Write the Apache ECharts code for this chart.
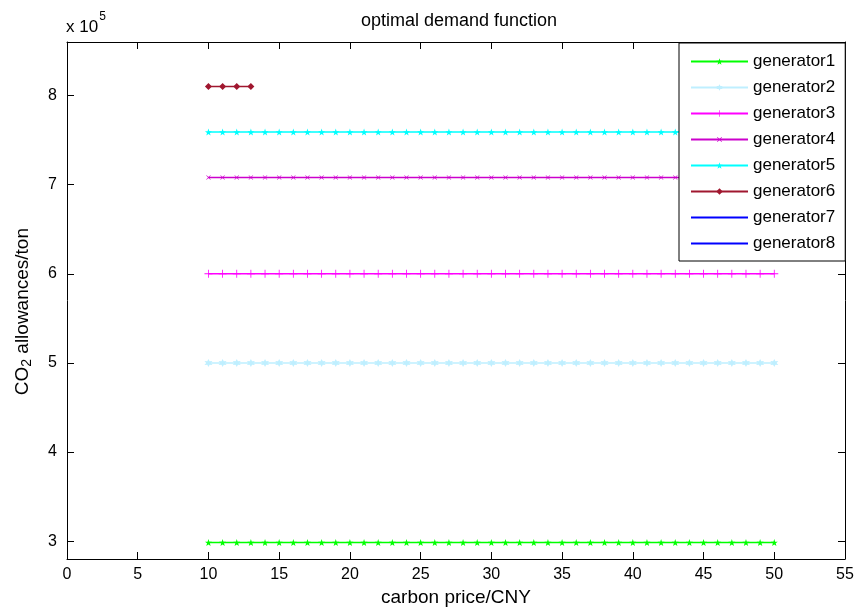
<!DOCTYPE html>
<html>
<head>
    <meta charset="utf-8">
    <title>optimal demand function</title>
    <script src="https://cdn.jsdelivr.net/npm/echarts@6/dist/echarts.min.js"></script>
</head>
<body style="margin:0;background:#fff;">
<div id="main" style="width: 858px;height:607px;"></div>
<script type="text/javascript">
    // carbon price (CNY) on x, allowances in units of 1e5 ton on y
    var price = [10,11,12,13,14,15,16,17,18,19,20,21,22,23,24,25,26,27,28,29,30,
                 31,32,33,34,35,36,37,38,39,40,41,42,43,44,45,46,47,48,49,50];
    var gen1 = [2.985,2.985,2.985,2.985,2.985,2.985,2.985,2.985,2.985,2.985,2.985,2.985,2.985,2.985,
                2.985,2.985,2.985,2.985,2.985,2.985,2.985,2.985,2.985,2.985,2.985,2.985,2.985,2.985,
                2.985,2.985,2.985,2.985,2.985,2.985,2.985,2.985,2.985,2.985,2.985,2.985,2.985];
    var gen2 = [5.0,5.0,5.0,5.0,5.0,5.0,5.0,5.0,5.0,5.0,5.0,5.0,5.0,5.0,5.0,5.0,5.0,5.0,5.0,5.0,5.0,
                5.0,5.0,5.0,5.0,5.0,5.0,5.0,5.0,5.0,5.0,5.0,5.0,5.0,5.0,5.0,5.0,5.0,5.0,5.0,5.0];
    var gen3 = [6.0,6.0,6.0,6.0,6.0,6.0,6.0,6.0,6.0,6.0,6.0,6.0,6.0,6.0,6.0,6.0,6.0,6.0,6.0,6.0,6.0,
                6.0,6.0,6.0,6.0,6.0,6.0,6.0,6.0,6.0,6.0,6.0,6.0,6.0,6.0,6.0,6.0,6.0,6.0,6.0,6.0];
    var gen4 = [7.08,7.08,7.08,7.08,7.08,7.08,7.08,7.08,7.08,7.08,7.08,7.08,7.08,7.08,7.08,7.08,7.08,
                7.08,7.08,7.08,7.08,7.08,7.08,7.08,7.08,7.08,7.08,7.08,7.08,7.08,7.08,7.08,7.08,7.08,
                7.08,7.08,7.08,7.08,7.08,7.08,7.08];
    var gen5 = [7.59,7.59,7.59,7.59,7.59,7.59,7.59,7.59,7.59,7.59,7.59,7.59,7.59,7.59,7.59,7.59,7.59,
                7.59,7.59,7.59,7.59,7.59,7.59,7.59,7.59,7.59,7.59,7.59,7.59,7.59,7.59,7.59,7.59,7.59,
                7.59,7.59,7.59,7.59,7.59,7.59,7.59];
    var price6 = [10,11,12,13];
    var gen6 = [8.1,8.1,8.1,8.1];
    var gen7 = [];
    var gen8 = [];

    var xTicks = [0,5,10,15,20,25,30,35,40,45,50,55];
    var yTicks = [3,4,5,6,7,8];

    var font = 'Liberation Sans, Arial, Helvetica, sans-serif';

    // marker shapes, MATLAB style
    var star = 'path://M0,-10L2.35,-3.24L9.51,-3.09L3.8,1.24L5.88,8.09L0,4L-5.88,8.09L-3.8,1.24L-9.51,-3.09L-2.35,-3.24Z';
    var hexa = 'path://M0,-10L2.5,-4.33L8.66,-5L5,0L8.66,5L2.5,4.33L0,10L-2.5,4.33L-8.66,5L-5,0L-8.66,-5L-2.5,-4.33Z';
    var plus = 'path://M-1,-10H1V-1H10V1H1V10H-1V1H-10V-1H-1Z';

    function pairs(xs, ys) {
        var out = [];
        for (var i = 0; i < ys.length; i++) out.push([xs[i], ys[i]]);
        return out;
    }

    function line(name, data, color, symbol, size, width, rotate) {
        return {
            name: name,
            type: 'line',
            data: data,
            symbol: symbol,
            symbolSize: size,
            symbolRotate: rotate || 0,
            showSymbol: symbol !== 'none',
            animation: false,
            itemStyle: {color: color},
            lineStyle: {color: color, width: width}
        };
    }

    var myChart = echarts.init(document.getElementById('main'));

    function ticks(vals) {
        var t = {show: true, inside: true, length: 7, lineStyle: {color: '#000'}};
        if (vals) t.customValues = vals;
        return t;
    }
    function axLine() {
        return {show: true, onZero: false, lineStyle: {color: '#000', width: 1}};
    }

    var option = {
        backgroundColor: '#fff',
        textStyle: {fontFamily: font},
        title: {
            text: 'optimal demand function',
            left: 454, top: 7, textAlign: 'center',
            textStyle: {fontFamily: font, fontSize: 18, fontWeight: 'normal', color: '#000'}
        },
        graphic: [{
            type: 'text',
            left: 66, top: 11,
            style: {
                text: '{a|x 10}{b|5}',
                rich: {
                    a: {fontFamily: font, fontSize: 17, color: '#000', padding: [8, 0, 0, 0]},
                    b: {fontFamily: font, fontSize: 12, color: '#000', verticalAlign: 'top', padding: [0, 0, 8, 1]}
                }
            }
        }, {
            type: 'text',
            left: 13, top: 228,
            rotation: Math.PI / 2,
            style: {
                text: '{a|CO}{b|2}{a| allowances/ton}',
                rich: {
                    a: {fontFamily: font, fontSize: 19, color: '#000'},
                    b: {fontFamily: font, fontSize: 14, color: '#000', padding: [10, 0, 0, 0]}
                }
            }
        }],
        legend: {
            orient: 'vertical',
            left: 679, top: 43,
            padding: [10, 10, 9, 11],
            itemWidth: 57, itemHeight: 8, itemGap: 9,
            backgroundColor: '#fff',
            borderColor: '#000', borderWidth: 1,
            z: 10,
            textStyle: {fontFamily: font, fontSize: 17, color: '#000'},
            data: ['generator1','generator2','generator3','generator4',
                   'generator5','generator6',
                   {name: 'generator7', itemStyle: {opacity: 0}},
                   {name: 'generator8', itemStyle: {opacity: 0}}]
        },
        grid: {left: 67, right: 13, top: 42, bottom: 48, containLabel: false, outerBoundsMode: 'none'},
        xAxis: [{
            type: 'value', min: 0, max: 55, interval: 5,
            position: 'bottom',
            name: 'carbon price/CNY', nameLocation: 'middle', nameGap: 28,
            nameTextStyle: {fontFamily: font, fontSize: 19, color: '#000'},
            axisLine: axLine(), axisTick: ticks(), splitLine: {show: false},
            axisLabel: {fontFamily: font, fontSize: 16, color: '#000', margin: 8,
                        customValues: xTicks}
        }, {
            type: 'value', min: 0, max: 55, interval: 5,
            position: 'top',
            axisLine: axLine(), axisTick: ticks(), splitLine: {show: false},
            axisLabel: {show: false}
        }],
        yAxis: [{
            type: 'value', min: 2.8, max: 8.6,
            position: 'left',
            axisLine: axLine(),
            axisTick: ticks(yTicks),
            splitLine: {show: false},
            axisLabel: {fontFamily: font, fontSize: 16, color: '#000', margin: 10, customValues: yTicks}
        }, {
            type: 'value', min: 2.8, max: 8.6,
            position: 'right',
            axisLine: axLine(),
            axisTick: ticks(yTicks),
            splitLine: {show: false},
            axisLabel: {show: false}
        }],
        series: [
            line('generator1', pairs(price, gen1), '#00ff00', star, 7, 1.5),
            line('generator2', pairs(price, gen2), '#bfefff', hexa, 8, 1.5),
            line('generator3', pairs(price, gen3), '#ff00ff', plus, 8, 1.5),
            line('generator4', pairs(price, gen4), '#cc00cc', plus, 6, 1.5, 45),
            line('generator5', pairs(price, gen5), '#00ffff', star, 7, 1.5),
            line('generator6', pairs(price6, gen6), '#a0172f', 'diamond', 7, 1.5),
            line('generator7', pairs(price, gen7), '#0000ff', 'none', 0, 3),
            line('generator8', pairs(price, gen8), '#0000ff', 'none', 0, 1)
        ]
    };
    myChart.setOption(option);
</script>
</body>
</html>
